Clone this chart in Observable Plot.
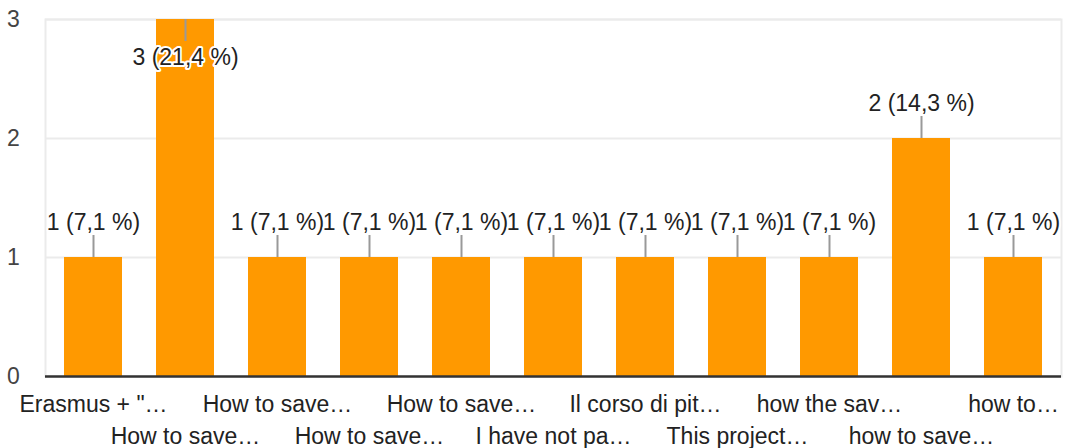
<!DOCTYPE html>
<html>
<head>
<meta charset="utf-8">
<script src="https://cdn.jsdelivr.net/npm/d3@7"></script>
<script src="https://cdn.jsdelivr.net/npm/@observablehq/plot@0.6"></script>
<style>
  html, body { margin: 0; padding: 0; background: #fff; }
  svg { display: block; }
</style>
</head>
<body>
<div id="chart"></div>
<script>
const labels = ['Erasmus + "…', 'How to save…', 'How to save…', 'How to save…', 'How to save…', 'I have not pa…', 'Il corso di pit…', 'This project…', 'how the sav…', 'how to save…', 'how to…'];
const values = [1, 3, 1, 1, 1, 1, 1, 1, 1, 2, 1];
const yTicks = [0, 1, 2, 3];

const total = d3.sum(values);
const data = values.map((v, i) => ({i, v, label: `${v} (${(v / total * 100).toFixed(1).replace(".", ",")} %)`}));
const yMax = d3.max(yTicks);
const leader = 0.185;
const font = "'Liberation Sans', Arial, sans-serif";
const fs = 23;
const idx = labels.map((_, i) => i);

const chart = Plot.plot({
  width: 1067,
  height: 448,
  marginLeft: 45,
  marginRight: 6,
  marginTop: 19,
  marginBottom: 72,
  style: {fontFamily: font, fontSize: fs + "px", color: "#222", background: "#fff"},
  x: {type: "band", domain: idx, paddingInner: 0.373, paddingOuter: 0.18, axis: null, label: null},
  y: {domain: [0, yMax], axis: null, label: null},
  marks: [
    Plot.gridY(yTicks.filter(t => t > 0), {stroke: "#ebebeb", strokeOpacity: 1, strokeWidth: 2}),
    Plot.frame({stroke: "#ebebeb", strokeWidth: 2}),
    Plot.barY(data, {x: "i", y: "v", fill: "#ff9900"}),
    Plot.ruleY([0], {stroke: "#333", strokeWidth: 2.5}),
    Plot.axisY({ticks: yTicks, tickFormat: "d", label: null, tickSize: 0, tickPadding: 32, textAnchor: "middle", fontSize: fs, fill: "#444"}),
    Plot.axisX({ticks: idx.filter(i => i % 2 === 0), tickFormat: i => labels[i], label: null, tickSize: 0, tickPadding: 19, fontSize: fs, fill: "#222"}),
    Plot.axisX({ticks: idx.filter(i => i % 2 === 1), tickFormat: i => labels[i], label: null, tickSize: 0, tickPadding: 51, fontSize: fs, fill: "#222"}),
    Plot.ruleX(data, {x: "i", y1: "v", y2: d => d.v >= yMax ? d.v - leader : d.v + leader, stroke: "#999", strokeWidth: 2}),
    Plot.text(data, {x: "i", y: "v", text: "label", fill: "#222", stroke: "white", strokeWidth: 4, fontSize: fs,
      filter: d => d.v < yMax, dy: -35}),
    Plot.text(data, {x: "i", y: "v", text: "label", fill: "#222", stroke: "white", strokeWidth: 4, fontSize: fs,
      filter: d => d.v >= yMax, dy: 38})
  ]
});
document.getElementById("chart").appendChild(chart);
</script>
</body>
</html>
